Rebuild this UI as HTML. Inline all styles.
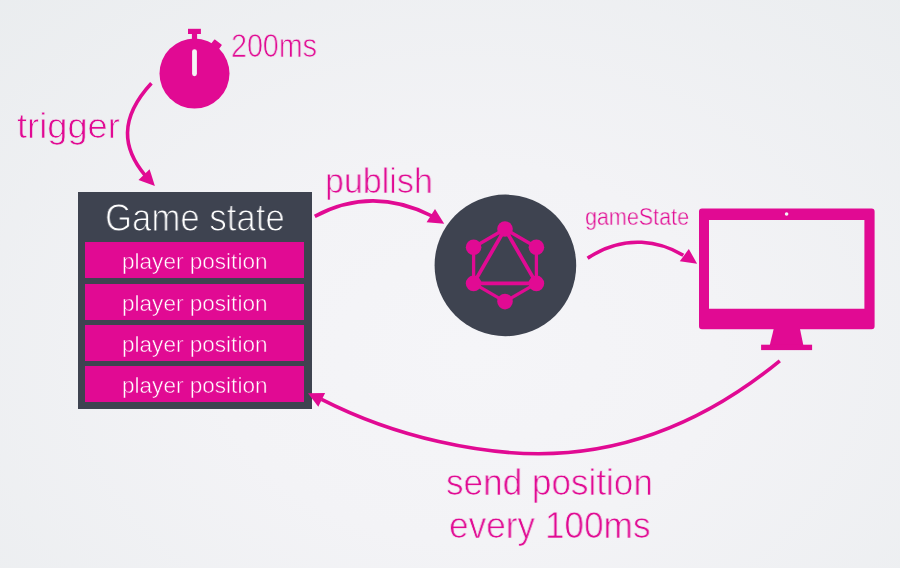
<!DOCTYPE html>
<html lang="en">
<head>
<meta charset="utf-8">
<title>Game state publish diagram</title>
<style>
html,body{margin:0;padding:0;}
body{width:900px;height:568px;overflow:hidden;position:relative;background:#eeeff2;
  font-family:"Liberation Sans",sans-serif;}
#bg{position:absolute;left:0;top:0;width:900px;height:568px;
  background:radial-gradient(ellipse 80% 95% at 52% 62%, #f5f5f8 0%, #f3f3f6 35%, #e9ecee 100%);}
svg{position:absolute;left:0;top:0;}
.t{position:absolute;white-space:nowrap;line-height:1;transform-origin:0 0;will-change:transform;}
.box{position:absolute;left:77.5px;top:192px;width:234.3px;height:216.7px;background:#3e4350;}
.row{position:absolute;left:84.6px;width:219.5px;height:36px;background:#e10a93;}
</style>
</head>
<body>
<div id="bg"></div>
<div class="box"></div>
<div class="row" style="top:242.2px"></div>
<div class="row" style="top:283.5px"></div>
<div class="row" style="top:324.8px"></div>
<div class="row" style="top:366.1px"></div>

<svg width="900" height="568" viewBox="0 0 900 568">
  <!-- stopwatch -->
  <g fill="#e10a93">
    <circle cx="194.5" cy="73.6" r="35"/>
    <rect x="188" y="28.8" width="12.9" height="5.2"/>
    <rect x="191.9" y="32" width="5.2" height="9"/>
    <rect x="-4.7" y="-3.2" width="9.4" height="6.4" rx="0.8" transform="translate(216.4 44.6) rotate(38)"/>
  </g>
  <rect x="192.1" y="49.2" width="4.8" height="27" rx="2.4" fill="#f4f4f6"/>
  <!-- graphql -->
  <circle cx="505.4" cy="265.4" r="70.8" fill="#3e4350"/>
  <g stroke="#e10a93" fill="none" stroke-linejoin="round">
    <polygon stroke-width="3.3" points="505,229 536.4,247.2 536.4,283.4 505,301.6 473.6,283.4 473.6,247.2"/>
    <polygon stroke-width="3.7" points="505,229 536.4,283.4 473.6,283.4"/>
  </g>
  <g fill="#e10a93">
    <circle cx="505" cy="229" r="7.8"/><circle cx="536.4" cy="247.2" r="7.8"/><circle cx="536.4" cy="283.4" r="7.8"/>
    <circle cx="505" cy="301.6" r="7.8"/><circle cx="473.6" cy="283.4" r="7.8"/><circle cx="473.6" cy="247.2" r="7.8"/>
  </g>
  <!-- monitor -->
  <g fill="#e10a93">
    <path fill-rule="evenodd" d="M702,208.6 H871.6 Q874.6,208.6 874.6,211.6 V326.2 Q874.6,329.2 871.6,329.2 H702 Q699,329.2 699,326.2 V211.6 Q699,208.6 702,208.6 Z M709,220 V308.8 H864.4 V220 Z"/>
    <polygon points="773.7,329 800,329 803.3,345 769.8,345"/>
    <rect x="761.1" y="344.7" width="51" height="5.4"/>
  </g>
  <circle cx="786.6" cy="214" r="1.8" fill="#f4f4f6"/>
  <!-- arrows -->
  <g stroke="#e10a93" stroke-width="3.6" fill="none">
    <path d="M151.4,83.3 C118.4,119.1 122.8,148.7 145.1,175.3"/>
    <path d="M314.8,216.3 C362.3,190.8 403.6,201.6 431.9,216.0"/>
    <path d="M587.6,258.2 C626.1,232.6 661.6,242.4 683.3,255.3"/>
    <path d="M779.8,360.8 C703.6,423.2 622.6,453.7 538.7,453.7 C483.2,453.7 399.9,439.5 321.6,399.4"/>
  </g>
  <g fill="#e10a93">
    <polygon points="154.9,185.9 149.6,169.2 138.5,180.1"/>
    <polygon points="444.2,223.7 435,208.9 426.6,222.2"/>
    <polygon points="697.1,263.8 688.8,248.9 679.8,261.3"/>
    <polygon points="308,393.2 325.1,393 318.3,406.8"/>
  </g>
</svg>
<div class="t" style="left:231.19px;top:28.94px;font-size:33.5px;color:#e10a93;-webkit-text-stroke:0.75px #eeeff2;transform:scaleX(0.8544)">200ms</div>
<div class="t" style="left:17.17px;top:109.33px;font-size:34.7px;color:#e10a93;-webkit-text-stroke:0.75px #edeef1;transform:scaleX(1.0458)">trigger</div>
<div class="t" style="left:324.93px;top:164.16px;font-size:35.5px;color:#e10a93;-webkit-text-stroke:0.75px #f2f2f5;transform:scaleX(0.9582)">publish</div>
<div class="t" style="left:585.28px;top:206.41px;font-size:23px;color:#e10a93;-webkit-text-stroke:0.45px #f1f1f4;transform:scaleX(0.9356)">gameState</div>
<div class="t" style="left:105.34px;top:198.78px;font-size:38px;color:#ffffff;-webkit-text-stroke:1.0px #3e4350;transform:scaleX(0.9153)">Game state</div>
<div class="t" style="left:121.59px;top:251.25px;font-size:22.5px;color:#ffffff;-webkit-text-stroke:0.5px #e10a93;transform:scaleX(1.0028)">player position</div>
<div class="t" style="left:121.59px;top:292.55px;font-size:22.5px;color:#ffffff;-webkit-text-stroke:0.5px #e10a93;transform:scaleX(1.0028)">player position</div>
<div class="t" style="left:121.59px;top:333.85px;font-size:22.5px;color:#ffffff;-webkit-text-stroke:0.5px #e10a93;transform:scaleX(1.0028)">player position</div>
<div class="t" style="left:121.59px;top:375.15px;font-size:22.5px;color:#ffffff;-webkit-text-stroke:0.5px #e10a93;transform:scaleX(1.0028)">player position</div>
<div class="t" style="left:446.38px;top:463.53px;font-size:37.2px;color:#e10a93;-webkit-text-stroke:0.75px #f4f4f7;transform:scaleX(0.9438)">send position</div>
<div class="t" style="left:449.08px;top:508.35px;font-size:36.7px;color:#e10a93;-webkit-text-stroke:0.75px #f3f3f6;transform:scaleX(0.9595)">every 100ms</div>
</body>
</html>
